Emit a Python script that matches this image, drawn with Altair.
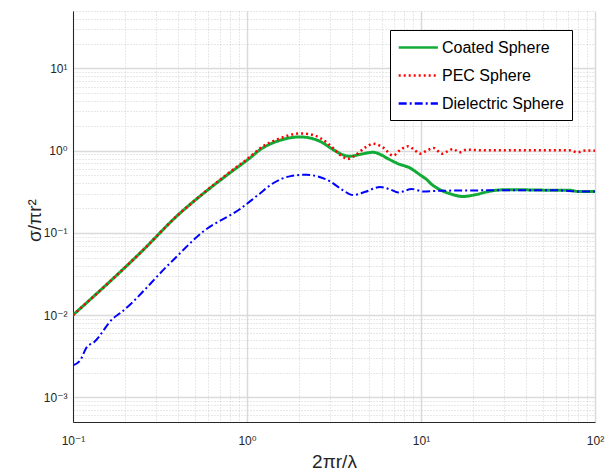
import altair as alt
import pandas as pd

series_names = ["Coated Sphere", "PEC Sphere", "Dielectric Sphere"]
series_colors = ["#12ab38", "#ff0000", "#0000ff"]
series_dashes = [[1, 0], [2, 3], [8, 3, 2, 3]]
series_widths = [3, 2.5, 2]

coated_x = [0.1, 0.2535, 0.40, 0.55, 0.794, 1.04, 1.19, 1.55, 2.02, 2.29, 2.63, 3.13, 3.55,
            3.89, 4.47, 5.32, 5.89, 6.35, 7.41, 8.65, 9.86, 10.8, 11.5, 12.9, 14.7, 17.4, 20.4,
            24.5, 29.5, 35.5, 50.1, 70.8, 79.4, 100]
coated_y = [0.0100, 0.0621, 0.164, 0.291, 0.533, 0.815, 1.028, 1.337, 1.469, 1.429, 1.297,
            1.028, 0.891, 0.853, 0.902, 0.955, 0.891, 0.815, 0.692, 0.615, 0.509, 0.443, 0.390,
            0.334, 0.299, 0.277, 0.290, 0.319, 0.334, 0.335, 0.331, 0.331, 0.319, 0.319]

pec_x = [0.1, 0.2535, 0.40, 0.55, 0.794, 1.04, 1.19, 1.55, 2.02, 2.29, 2.63, 3.13, 3.47,
         3.80, 4.17, 4.79, 5.32, 6.03, 6.93, 7.59, 8.45, 9.12, 9.86, 10.8, 11.8, 13.2, 14.2, 15.3,
         16.7, 18.3, 22.4, 31.6, 50.1, 70.8, 79.4, 88.0, 100]
pec_y = [0.0100, 0.0621, 0.164, 0.293, 0.545, 0.840, 1.072, 1.413, 1.622, 1.585, 1.429,
         1.072, 0.871, 0.794, 0.871, 1.096, 1.216, 1.096, 0.870, 1.020, 1.130, 1.030, 0.918,
         1.000, 1.079, 0.918, 0.980, 1.047, 0.955, 1.028, 1.009, 1.014, 1.009, 1.012, 0.955,
         1.005, 1.000]

diel_x = [0.1, 0.11, 0.12, 0.132, 0.17, 0.186, 0.361, 0.561, 0.912, 1.16, 1.42, 1.78, 2.20, 2.51,
          3.00, 3.55, 4.08, 4.79, 5.81, 6.61, 7.41, 8.85, 10.3, 12.6, 20.0, 31.6, 56.2, 70.8,
          79.4, 100]
diel_y = [0.00245, 0.00282, 0.00407, 0.00468, 0.00912, 0.0105, 0.0427, 0.104, 0.195, 0.290,
          0.404, 0.490, 0.509, 0.490, 0.423, 0.331, 0.288, 0.316, 0.361, 0.339, 0.310, 0.341,
          0.319, 0.325, 0.328, 0.331, 0.331, 0.324, 0.319, 0.319]

x_major = [0.1, 1, 10, 100]
x_major_labels = ["10⁻¹", "10⁰", "10¹", "10²"]
y_major = [0.001, 0.01, 0.1, 1, 10]
y_major_labels = ["10⁻³", "10⁻²", "10⁻¹", "10⁰", "10¹"]
x_domain = [0.1, 100]
y_domain = [0.0005, 50]

frames = []
for name, xs, ys in [(series_names[0], coated_x, coated_y),
                     (series_names[1], pec_x, pec_y),
                     (series_names[2], diel_x, diel_y)]:
    frames.append(pd.DataFrame({"x": xs, "y": ys, "series": name}))
df = pd.concat(frames, ignore_index=True)

def grid_values(lo_exp, hi_exp, lo, hi):
    vals = []
    for e in range(lo_exp, hi_exp + 1):
        for m in range(1, 10):
            v = m * (10.0 ** e) if e >= 0 else m / (10.0 ** (-e))
            if lo * 0.999 <= v <= hi * 1.001:
                vals.append(v)
    return vals

x_vals = grid_values(-1, 2, 0.1, 100)
y_vals = grid_values(-4, 1, 0.0005, 50)
x_vals = [v for v in x_vals if all(abs(v - m) > 1e-12 for m in x_major)] + x_major
y_vals = [v for v in y_vals if all(abs(v - m) > 1e-12 for m in y_major)] + y_major

def label_expr(vals, labels):
    expr = "''"
    for v, l in reversed(list(zip(vals, labels))):
        expr = f"datum.value == {v} ? '{l}' : ({expr})"
    return expr

def major_test(vals):
    return "indexof([" + ",".join(str(v) for v in vals) + "], datum.value) >= 0"

FONT = "Liberation Sans, Arial, DejaVu Sans"
AX = "#262626"

x_axis = alt.Axis(
    values=x_vals, labelExpr=label_expr(x_major, x_major_labels),
    title="2πr/λ", titleFont=FONT, titleFontSize=19, titleFontWeight="normal", titleColor=AX,
    titleY=45, titleBaseline="alphabetic",
    labelFont=FONT, labelFontSize=12, labelColor=AX, labelPadding=13, labelFlush=False,
    labelOverlap=False, ticks=False, domainColor=AX, domainWidth=1,
    grid=True,
    gridColor={"condition": {"test": major_test(x_major), "value": "#dadada"}, "value": "#c4c4c4"},
    gridDash={"condition": {"test": major_test(x_major), "value": []}, "value": [1, 2]},
    gridWidth={"condition": {"test": major_test(x_major), "value": 1.5}, "value": 0.8},
)
y_axis = alt.Axis(
    values=y_vals, labelExpr=label_expr(y_major, y_major_labels),
    title="σ/πr²", titleFont=FONT, titleFontSize=19, titleFontWeight="normal", titleColor=AX,
    titleX=-33, titleY=209, titleAngle=270, titleBaseline="alphabetic", titleAlign="center",
    labelFont=FONT, labelFontSize=12, labelColor=AX, labelPadding=6, labelFlush=False,
    labelOverlap=False, ticks=False, domainColor=AX, domainWidth=1,
    grid=True,
    gridColor={"condition": {"test": major_test(y_major), "value": "#dadada"}, "value": "#c4c4c4"},
    gridDash={"condition": {"test": major_test(y_major), "value": []}, "value": [1, 2]},
    gridWidth={"condition": {"test": major_test(y_major), "value": 1.5}, "value": 0.8},
)

legend = alt.Legend(
    title=None, orient="none", legendX=317, legendY=19,
    fillColor="white", strokeColor="black", padding=8,
    symbolType="M-1.1,0H3.8", symbolSize=256, symbolStrokeWidth=2.5,
    labelFont=FONT, labelFontSize=16, labelColor="black", labelOffset=25, rowPadding=10,
    labelLimit=300,
)

color_scale = alt.Scale(domain=series_names, range=series_colors)
dash_scale = alt.Scale(domain=series_names, range=series_dashes)

layers = []
for i, name in enumerate(series_names):
    layer = alt.Chart(df).transform_filter(alt.datum.series == name).mark_line(
        strokeWidth=series_widths[i], interpolate="monotone", clip=True
    ).encode(
        x=alt.X("x:Q", scale=alt.Scale(type="log", domain=x_domain, nice=False), axis=x_axis),
        y=alt.Y("y:Q", scale=alt.Scale(type="log", domain=y_domain, nice=False), axis=y_axis),
        color=alt.Color("series:N", scale=color_scale, legend=legend),
        strokeDash=alt.StrokeDash("series:N", scale=dash_scale, legend=legend),
    )
    layers.append(layer)

chart = alt.layer(*layers).properties(
    width=522, height=411,
    autosize=alt.AutoSizeParams(type="none"),
    padding={"left": 73, "top": 11, "right": 21, "bottom": 49},
    background="white",
).configure_view(stroke=None)

chart.save("out.html", embed_options={"renderer": "svg", "actions": False})
